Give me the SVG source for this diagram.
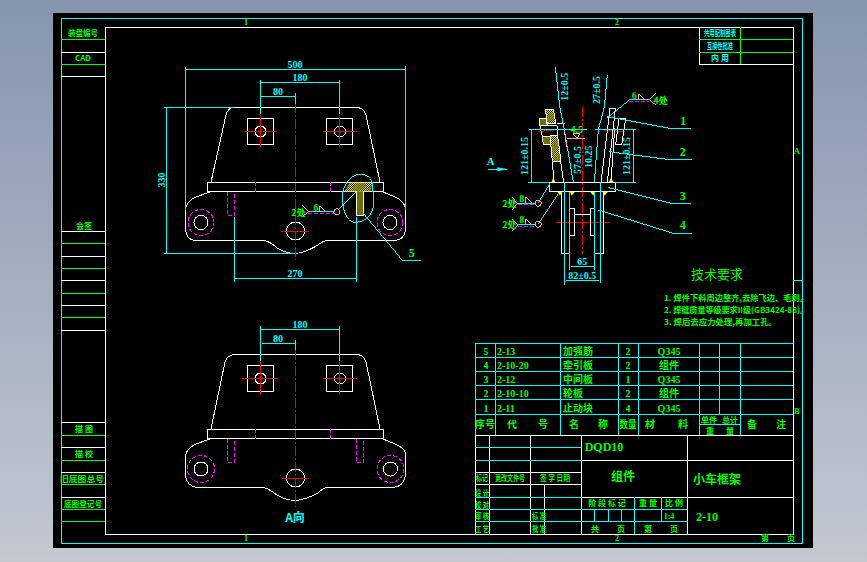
<svg xmlns="http://www.w3.org/2000/svg" width="867" height="562" viewBox="0 0 867 562">
<style>
.w,.c,.g,.r,.m,.o{fill:none;stroke-width:1;shape-rendering:crispEdges}
.w{stroke:#fff}.c{stroke:#0ff}.g{stroke:#0f0}.o{stroke:#ffb478}
.r{stroke:#f00;stroke-dasharray:10 2 2 2}.rs{fill:none;stroke:#f00;stroke-width:1;shape-rendering:crispEdges}
.m{stroke:#f0f;stroke-dasharray:4 2}
.z .w,.z .c,.z .o,.z .r,.z .m,.z .rs{stroke-width:3}
.z .m{stroke-dasharray:12 6}.z .r{stroke-dasharray:30 6 6 6}
text{font-family:"Noto Sans CJK SC","Liberation Sans",sans-serif;font-weight:700;font-size:8px;text-anchor:middle}
.tg{fill:#0f0}.tc{fill:#0ff}
.nm{font-family:"Liberation Serif","Noto Sans CJK SC",serif;font-weight:700}
.t9 text,text.t9{font-size:10px}.t11{font-size:10px}.t12{font-size:12px}
.l{text-anchor:start}
.y1{fill:url(#hatch)}.y2{fill:url(#check)}
.yw{fill:#ff0;stroke:none}
</style>
<defs>
<linearGradient id="bg" x1="0" y1="0" x2="0" y2="1"><stop offset="0" stop-color="#8595ae"/><stop offset="1" stop-color="#c3c8d1"/></linearGradient>
<pattern id="hatch" width="4" height="4" patternUnits="userSpaceOnUse" patternTransform="rotate(-45)"><rect width="4" height="4" fill="#000"/><rect width="4" height="2" fill="#ff0"/></pattern>
<pattern id="check" width="2" height="2" patternUnits="userSpaceOnUse"><rect width="2" height="2" fill="#000"/><rect width="1" height="1" fill="#ff0"/><rect x="1" y="1" width="1" height="1" fill="#ff0"/></pattern>
</defs>
<rect width="867" height="562" fill="url(#bg)"/>
<rect x="53" y="13" width="760" height="535" fill="#000"/>

<g id="frame">
<rect class="c" x="61.500" y="18.500" width="741" height="525"/>
<rect class="w" x="105.500" y="27.500" width="688" height="507"/>
<path class="w" d="M61 52.500H105M61 76.500H105M61 231.500H105M61 256.500H105M61 280.500H105M61 305.500H105M61 330.500H105M61 422.500H105M61 447.500H105M61 472.500H105M61 497.500H105"/>
<path class="g" d="M61 39.500H105M61 64.500H105M61 243.500H105M61 268.500H105M61 293.500H105M61 317.500H105M61 435.500H105M61 460.500H105M61 484.500H105M61 509.500H105M61 521.500H105"/>
<path class="c" d="M793 280.500H802"/>
<text class="tg" x="83" y="36" textLength="30" lengthAdjust="spacingAndGlyphs">装盘编号</text>
<text class="tg" x="83" y="61">CAD</text>
<text class="tg" x="84" y="229">会签</text>
<text class="tg" x="84" y="432">描 图</text>
<text class="tg" x="84" y="457">描 校</text>
<text class="tg" x="82" y="482" textLength="44" lengthAdjust="spacingAndGlyphs">旧底图总号</text>
<text class="tg" x="83" y="507" textLength="38" lengthAdjust="spacingAndGlyphs">底图登记号</text>
<text class="tg nm" x="246" y="25">1</text><text class="tg nm" x="617" y="25">2</text>
<text class="tg nm" x="246" y="541">1</text><text class="tg nm" x="617" y="541">2</text>
<text class="tg nm" x="797" y="154">A</text><text class="tg nm" x="797" y="414">B</text>
<text class="tg" x="765" y="541">第</text><text class="tg" x="791" y="541">页</text>
</g>

<g id="top-right-block">
<rect class="w" x="699.500" y="27.500" width="94" height="37"/>
<path class="g" d="M699 39.500H793M699 52.500H793M740.500 27V64"/>
<text class="tc" x="720" y="36" textLength="32" lengthAdjust="spacingAndGlyphs">共用配制图表</text>
<text class="tc" x="720" y="49" textLength="26" lengthAdjust="spacingAndGlyphs">互换性批准</text>
<text class="tc" x="720" y="61">内   用</text>
</g>

<g id="front-view">
<path class="w" d="M233 107.500H357Q364 108 366 115L380 182M233 107.500Q228 108 226 115L211 182"/>
<rect class="w" x="207.500" y="182.500" width="176" height="9"/>
<path class="w" d="M210 192L196 197Q187 201 185.500 209V230Q187 240 195 240.500H263Q270 241 277 248Q285 253 295 253.500Q305 253 318 245Q323 241 327 240.500H395Q404 240 405.500 230V208Q403 200 395 197L383 192"/>
<rect class="w" x="247.500" y="118.500" width="26" height="26"/><rect class="w" x="326.500" y="118.500" width="26" height="26"/>
<circle class="w" cx="260.500" cy="131.500" r="5.500"/><circle class="w" cx="340" cy="131.500" r="5.500"/>
<circle class="w" cx="201" cy="222.500" r="7"/><circle class="w" cx="390" cy="222.500" r="7"/>
<circle class="m" cx="201" cy="222.500" r="13"/><circle class="m" cx="390" cy="222.500" r="13"/>
<circle class="w" cx="295.500" cy="231" r="9"/>
<path class="m" d="M227.500 192V215.500H234.500V192M255.500 182V192M330.500 182V192"/>
<path class="rs" d="M244 131.500H276M260.500 115V148M323 131.500H357M339.500 115V148M281 231H309"/>
<path class="r" d="M295.500 103V260"/>
<path class="c" d="M185.500 67V210M405.500 66V210M186 69.500H405M260.500 80V114M339.500 80V114M261 82.500H339M261 96.500H295M295.500 93V104M164 107.500H233M164 253.500H295M166.500 108V253M234.500 217V282M356.500 217V282M235 278.500H356"/>
<text class="tc nm t11" x="295" y="68">500</text>
<text class="tc nm t11" x="300" y="81">180</text>
<text class="tc nm t11" x="278" y="95">80</text>
<text class="tc nm t11" transform="translate(165 180) rotate(-90)">330</text>
<text class="tc nm t11" x="295" y="277">270</text>
<g class="z" transform="translate(150 50) scale(.33333)">
<path class="y1" d="M583 424L598 398H667L662 424Z"/>
<rect class="y2" x="619" y="424" width="22" height="73"/>
<path class="w" d="M619 424V497H641V424"/>
<path class="c" d="M625 373C650 371 668 385 668 405C668 425 672 445 670 470C666 500 640 518 610 517C590 512 578 480 576 440C577 410 600 375 625 373Z"/>
<path class="c" d="M640 490L757 631H812M567 478L620 425M475 485H555"/>
<path class="m" d="M475 490H560"/>
<path class="o" d="M457 465L475 485L457 500M510 485V467L528 485"/>
<circle class="o" cx="560" cy="485" r="9"/>
<text class="tg" x="445" y="497" style="font-size:27px">2处</text>
<text class="tg nm" x="498" y="482" style="font-size:30px">6</text>
<text class="tg nm" x="785" y="620" style="font-size:36px">5</text>
</g>
</g>

<g id="side-view" class="z" transform="translate(470 50) scale(.33333)">
<path class="r" d="M337 170V612"/>
<path class="rs" d="M258 517H420"/>
<path class="rs" d="M205 245L270 238M400 240L465 245"/>
<rect class="w" x="238" y="397" width="199" height="28"/>
<path class="w" d="M274 425V611H300V425M401 425V611H373V425M300 477H314V557H300M373 477H361V557H373M314 495H361"/>
<path class="yw" d="M244 397L250 383L256 397ZM417 397L423 383L430 397ZM262 425H276L270 437ZM300 425H315L305 437ZM360 425H375L370 437ZM400 425H414L403 437Z"/>
<path class="y1" d="M226 178H250L258 222H232Z"/><path class="w" d="M226 178H250L258 222H232Z"/>
<path class="y2" d="M208 205H228L232 228H210Z"/><path class="w" d="M208 205H228L232 228H210Z"/>
<path class="y2" d="M217 260H240L243 284H220Z"/><path class="w" d="M217 260H240L243 284H220Z"/>
<path class="y1" d="M240 258H263L273 335H247Z"/><path class="w" d="M240 258H263L273 335H247Z"/>
<path class="w" d="M210 228L217 260M232 228H262V258M247 335L252 397M272 335L281 397M262 222H285M420 175L393 397M420 175H436L412 397M447 205H467L455 285H437L447 205M423 397L434 235"/>
<path class="c" d="M256 52L270 175L283 240L310 397M412 75L403 170L385 240L373 397M178 238H350M376 238H497M175 397H238M437 397H497M184 238V397M490 238V397M283 397V705M391 397V700M300 425V660M373 425V660M302 650H373M288 693H388M412 200L600 235H663M417 305L592 328H665M415 413L604 460H663M385 480L610 550H665M478 150L410 205M478 150H538M143 460H197M143 525H197M205 458L240 400M205 522L265 432M54 358H110"/>
<path fill="#0ff" d="M115 358L82 352V364Z"/>
<path class="m" d="M478 154H538M143 465H197M143 529H197"/>
<path class="o" d="M507 150V132L525 150M558 130L538 148L558 166M168 460V442L186 460M126 442L143 460L126 480M168 525V507L186 525M126 507L143 525L126 542M290 265H345M310 252H330L320 265ZM283 240L290 292"/>
<circle class="o" cx="205" cy="460" r="9"/><circle class="o" cx="205" cy="523" r="9"/>
<text class="tc nm" style="font-size:30px" transform="translate(174 318) rotate(-90)">121±0.15</text>
<text class="tc nm" style="font-size:30px" transform="translate(481 318) rotate(-90)">121±0.15</text>
<text class="tc nm" style="font-size:30px" x="337" y="644">65</text>
<text class="tc nm" style="font-size:30px" x="337" y="687">82±0.5</text>
<text class="tc nm" style="font-size:33px" x="62" y="346">A</text>
<text class="tc nm" style="font-size:30px" transform="translate(293 110) rotate(-90)">12±0.5</text>
<text class="tc nm" style="font-size:30px" transform="translate(390 120) rotate(-90)">27±0.5</text>
<text class="tc nm" style="font-size:30px" transform="translate(333 330) rotate(-90)">57±0.5</text>
<text class="tc nm" style="font-size:30px" transform="translate(367 320) rotate(-90)">10.25</text>
<text class="tg" style="font-size:27px" x="118" y="472">2处</text>
<text class="tg" style="font-size:27px" x="118" y="535">2处</text>
<text class="tg" style="font-size:27px" x="572" y="162">4处</text>
<text class="tg nm" style="font-size:30px" x="155" y="456">8</text>
<text class="tg nm" style="font-size:30px" x="155" y="519">8</text>
<text class="tg nm" style="font-size:30px" x="493" y="147">6</text>
<text class="tg nm" style="font-size:30px" x="320" y="248">4.5</text>
<text class="tg nm" style="font-size:36px" x="640" y="224">1</text>
<text class="tg nm" style="font-size:36px" x="638" y="317">2</text>
<text class="tg nm" style="font-size:36px" x="638" y="449">3</text>
<text class="tg nm" style="font-size:36px" x="638" y="537">4</text>
</g>

<g id="bottom-view">
<path class="w" d="M235 354.500H357Q364 355 366 362L380 429M235 354.500Q227 355 225 362L211 429"/>
<rect class="w" x="207.500" y="429.500" width="176" height="9"/>
<path class="w" d="M210 439L196 444Q186 449 185.500 456V476Q187 486 197 487.500H263Q268 488 277 495Q285 500 295 500.500Q305 500 318 493Q323 488 327 487.500H393Q403 487 405.500 476V453Q403 447 395 444L383 439"/>
<rect class="w" x="247.500" y="365.500" width="26" height="26"/><rect class="w" x="326.500" y="365.500" width="26" height="26"/>
<circle class="w" cx="260.500" cy="378.500" r="5.500"/><circle class="w" cx="340" cy="378.500" r="5.500"/>
<circle class="w" cx="201" cy="469" r="7"/><circle class="w" cx="390.500" cy="469" r="7"/>
<circle class="m" cx="201" cy="469" r="13.500"/><circle class="m" cx="390.500" cy="469" r="13.500"/>
<circle class="w" cx="295.500" cy="478" r="9"/>
<path class="m" d="M227.500 439V462.500H234.500V439M356.500 439V462.500H363.500V439M255.500 429V439M330.500 429V439"/>
<path class="rs" d="M242 378.500H278M260.500 362V395M323 378.500H357M339.500 362V395M282 478H309"/>
<path class="r" d="M295.500 350V507"/>
<path class="c" d="M260.500 326V361M339.500 326V361M261 329.500H339M262 343.500H295M295.500 340V350"/>
<text class="tc nm t11" x="300" y="328">180</text>
<text class="tc nm t11" x="278" y="342">80</text>
<text class="tc t12" x="295" y="522">A向</text>
</g>

<g id="requirements">
<text class="tg" x="717" y="279" style="font-size:13px;font-weight:400">技术要求</text>
<text class="tg l" x="664" y="301" textLength="144" lengthAdjust="spacingAndGlyphs">1. 焊件下料周边整齐,去除飞边、毛刺。</text>
<text class="tg l" x="664" y="313" textLength="144" lengthAdjust="spacingAndGlyphs">2. 焊缝质量等级要求II级(GB3424-88)。</text>
<text class="tg l" x="664" y="325" textLength="113" lengthAdjust="spacingAndGlyphs">3. 焊后去应力处理,再加工孔。</text>
</g>

<g id="parts-table">
<path class="c" d="M475 343.500H793M475 357.500H793M475 371.500H793M475 385.500H793M475 399.500H793M475 414.500H793M699 424.500H740M475.500 343V435M495.500 343V435M560.500 343V435M618.500 343V435M638.500 343V435M699.500 343V435M719.500 343V414M740.500 343V435"/>
<g class="t9">
<text class="tg nm" x="486" y="355">5</text><text class="tg nm l" x="497" y="355">2-13</text><text class="tg l" x="563" y="355">加强筋</text><text class="tg nm" x="628" y="355">2</text><text class="tg nm" x="669" y="355">Q345</text>
<text class="tg nm" x="486" y="369">4</text><text class="tg nm l" x="497" y="369">2-10-20</text><text class="tg l" x="563" y="369">牵引板</text><text class="tg nm" x="628" y="369">2</text><text class="tg" x="669" y="369">组件</text>
<text class="tg nm" x="486" y="383">3</text><text class="tg nm l" x="497" y="383">2-12</text><text class="tg l" x="563" y="383">中间板</text><text class="tg nm" x="628" y="383">1</text><text class="tg nm" x="669" y="383">Q345</text>
<text class="tg nm" x="486" y="397">2</text><text class="tg nm l" x="497" y="397">2-10-10</text><text class="tg l" x="563" y="397">轮板</text><text class="tg nm" x="628" y="397">2</text><text class="tg" x="669" y="397">组件</text>
<text class="tg nm" x="486" y="412">1</text><text class="tg nm l" x="497" y="412">2-11</text><text class="tg l" x="563" y="412">止动块</text><text class="tg nm" x="628" y="412">4</text><text class="tg nm" x="669" y="412">Q345</text>
<text class="tg" x="485" y="428">序号</text><text class="tg" x="512" y="428">代</text><text class="tg" x="543" y="428">号</text><text class="tg" x="574" y="428">名</text><text class="tg" x="603" y="428">称</text><text class="tg" x="628" y="428" textLength="17" lengthAdjust="spacingAndGlyphs">数量</text><text class="tg" x="650" y="428">材</text><text class="tg" x="683" y="428">料</text>
<text class="tg" x="709" y="423" style="font-size:8px">单件</text><text class="tg" x="730" y="423" style="font-size:8px">总计</text><text class="tg" x="710" y="434" style="font-size:8px">重</text><text class="tg" x="730" y="434" style="font-size:8px">量</text><text class="tg" x="752" y="428">备</text><text class="tg" x="781" y="428">注</text>
</g>
</g>

<g id="title-block">
<path class="w" d="M475 435.500H793M475.500 435V534M489.500 435V534M530.500 435V534M544.500 484V534M581.500 435V534M687.500 435V534M581 460.500H793M581 497.500H793M475 472.500H581M475 484.500H581"/>
<path class="c" d="M475 447.500H581M475 460.500H581M475 497.500H581M475 509.500H687M475 521.500H687M634.500 497V534M661.500 497V521M594.500 509V521M608.500 509V521M621.500 509V521"/>
<text class="tg nm t12" x="604" y="451">DQD10</text>
<text class="tg t12" x="623" y="481">组件</text>
<text class="tg t12" x="717" y="484">小车框架</text>
<text class="tg nm t12" x="707" y="521">2-10</text>
<text class="tg" x="482" y="481" textLength="12" lengthAdjust="spacingAndGlyphs">标记</text><text class="tg" x="510" y="481" textLength="30" lengthAdjust="spacingAndGlyphs">更改文件号</text><text class="tg" x="555" y="481" textLength="30" lengthAdjust="spacingAndGlyphs">签 字 日期</text>
<text class="tg" x="482" y="496" textLength="14" lengthAdjust="spacingAndGlyphs">设 计</text><text class="tg" x="482" y="508" textLength="14" lengthAdjust="spacingAndGlyphs">校 对</text><text class="tg" x="482" y="519" textLength="14" lengthAdjust="spacingAndGlyphs">审 核</text><text class="tg" x="482" y="532" textLength="14" lengthAdjust="spacingAndGlyphs">工 艺</text>
<text class="tg" x="539" y="519" textLength="14" lengthAdjust="spacingAndGlyphs">标 准</text><text class="tg" x="539" y="532" textLength="14" lengthAdjust="spacingAndGlyphs">批 准</text>
<text class="tg" x="607" y="506">阶 段 标 记</text><text class="tg" x="648" y="506">重 量</text><text class="tg" x="674" y="506">比 例</text>
<text class="tg nm" x="669" y="519">1:4</text>
<text class="tg" x="595" y="532">共</text><text class="tg" x="621" y="532">页</text><text class="tg" x="648" y="532">第</text><text class="tg" x="674" y="532">页</text>
</g>
</svg>
